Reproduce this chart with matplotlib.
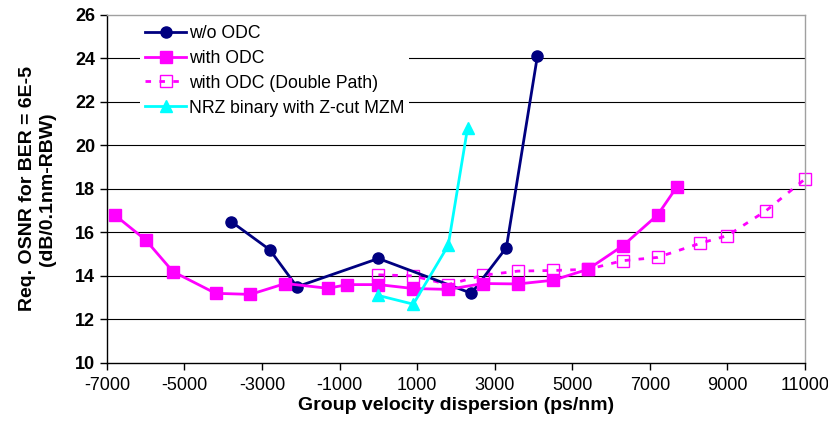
import matplotlib
matplotlib.use("Agg")
import matplotlib.pyplot as plt

plt.rcParams['font.family'] = ['Liberation Sans', 'DejaVu Sans']

wo_x = [-3800, -2800, -2100, 0, 2400, 3300, 4100]
wo_y = [16.5, 15.2, 13.5, 14.8, 13.2, 15.3, 24.1]

odc_x = [-6800, -6000, -5300, -4200, -3300, -2400, -1300, -800, 0, 900, 1800, 2700, 3600, 4500, 5400, 6300, 7200, 7700]
odc_y = [16.8, 15.65, 14.2, 13.2, 13.15, 13.65, 13.43, 13.6, 13.6, 13.42, 13.38, 13.65, 13.63, 13.8, 14.3, 15.38, 16.8, 18.1]

dp_x = [0, 900, 1800, 2700, 3600, 4500, 5400, 6300, 7200, 8300, 9000, 10000, 11000]
dp_y = [14.05, 14.0, 13.6, 14.03, 14.22, 14.25, 14.3, 14.7, 14.85, 15.5, 15.85, 17.0, 18.45]

nrz_x = [0, 900, 1800, 2300]
nrz_y = [13.1, 12.7, 15.4, 20.8]

xticks = list(range(-7000, 11001, 2000))
yticks = list(range(10, 27, 2))

fig = plt.figure(figsize=(8.29, 4.23), dpi=100)
ax = fig.add_axes([0.129, 0.142, 0.842, 0.823])

for y in yticks[1:-1]:
    ax.axhline(y, color='black', lw=0.8, zorder=0)

ax.plot(wo_x, wo_y, color='#000080', lw=2, marker='o', ms=8, label='w/o ODC', zorder=3, clip_on=False)
ax.plot(odc_x, odc_y, color='#FF00FF', lw=2, marker='s', ms=8.5, label='with ODC', zorder=3, clip_on=False)
ax.plot(dp_x, dp_y, color='#FF00FF', lw=2, ls=(0, (2, 3)), marker='s', ms=8.5, mfc='none', mec='#FF00FF',
        mew=1, label='with ODC (Double Path)', zorder=2, clip_on=False)
ax.plot(nrz_x, nrz_y, color='#00FFFF', lw=2, marker='^', ms=8, label='NRZ binary with Z-cut MZM', zorder=3, clip_on=False)

ax.set_xlim(-7000, 11000)
ax.set_ylim(10, 26)
ax.set_xticks(xticks)
ax.set_yticks(yticks)
ax.set_xticklabels([str(v) for v in xticks], fontsize=13)
ax.set_yticklabels([str(v) for v in yticks], fontsize=13, fontweight='bold')
ax.tick_params(direction='out', length=5, width=1, color='black')
ax.tick_params(axis='x', pad=5)

ax.spines['left'].set_color('black')
ax.spines['bottom'].set_color('black')
ax.spines['top'].set_color('#A0A0A0')
ax.spines['right'].set_color('#A0A0A0')
for s in ax.spines.values():
    s.set_linewidth(1)

ax.set_xlabel('Group velocity dispersion (ps/nm)', fontsize=14, fontweight='bold', labelpad=2)
ax.set_ylabel('Req. OSNR for BER = 6E-5\n(dB/0.1nm-RBW)', fontsize=14, fontweight='bold', labelpad=14)

leg = ax.legend(loc='upper left', bbox_to_anchor=(0.035, 1.012), frameon=True, fontsize=12.7,
                handlelength=2.3, handletextpad=0.15, labelspacing=0.45, borderpad=0.3)
leg.get_frame().set_edgecolor('none')
leg.get_frame().set_facecolor('white')
leg.get_frame().set_alpha(1)

fig.savefig('out.png', dpi=100)
